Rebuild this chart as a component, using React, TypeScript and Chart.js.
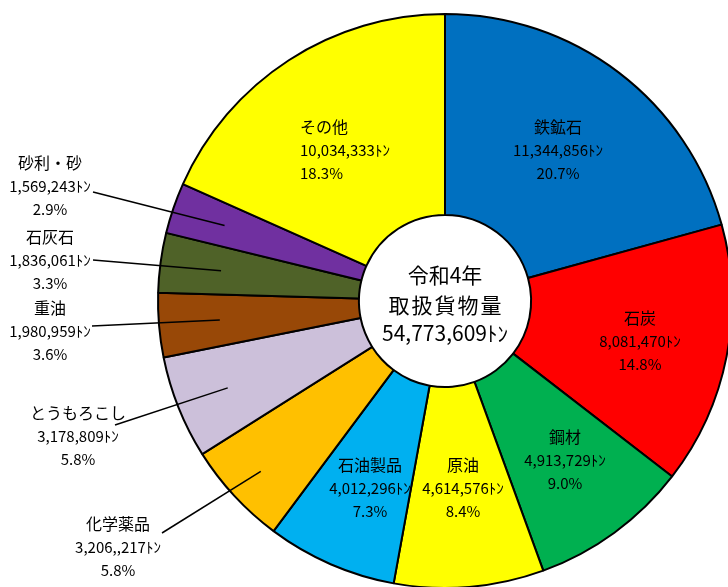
import React, { useEffect, useRef } from 'react';
import Chart from 'chart.js/auto';

const categories = ['鉄鉱石', '石炭', '鋼材', '原油', '石油製品', '化学薬品', 'とうもろこし', '重油', '石灰石', '砂利・砂', 'その他'];
const tonnage = [11344856, 8081470, 4913729, 4614576, 4012296, 3206217, 3178809, 1980959, 1836061, 1569243, 10034333];
const tonnageLabels = ['11,344,856ﾄﾝ', '8,081,470ﾄﾝ', '4,913,729ﾄﾝ', '4,614,576ﾄﾝ', '4,012,296ﾄﾝ', '3,206,,217ﾄﾝ', '3,178,809ﾄﾝ', '1,980,959ﾄﾝ', '1,836,061ﾄﾝ', '1,569,243ﾄﾝ', '10,034,333ﾄﾝ'];
const percentLabels = ['20.7%', '14.8%', '9.0%', '8.4%', '7.3%', '5.8%', '5.8%', '3.6%', '3.3%', '2.9%', '18.3%'];
const colors = ['#0070C0', '#FF0000', '#00B050', '#FFFF00', '#00B0F0', '#FFC000', '#CCC0DA', '#984807', '#4F6228', '#7030A0', '#FFFF00'];
const centerLines = ['令和4年', '取扱貨物量', '54,773,609ﾄﾝ'];

// label placement relative to chart centre (text position / leader line)
const labelLayout: any[] = [
  { dx: 113, dy: -174, align: 'center' },
  { dx: 195, dy: 17, align: 'center' },
  { dx: 120, dy: 136, align: 'center' },
  { dx: 18, dy: 164, align: 'center' },
  { dx: -75, dy: 164, align: 'center' },
  { dx: -327, dy: 223, align: 'center', lead: { sx: -283, sy: 232, r: 251 } },
  { dx: -367, dy: 112, align: 'center', lead: { sx: -330, sy: 124, r: 234 } },
  { dx: -395, dy: 7, align: 'center', lead: { sx: -353, sy: 25, r: 226 } },
  { dx: -395, dy: -64, align: 'center', lead: { sx: -352, sy: -41, r: 226 } },
  { dx: -395, dy: -138, align: 'center', lead: { sx: -352, sy: -109, r: 233 } },
  { dx: -145, dy: -174, align: 'left' },
];

const FONT = '"Noto Sans CJK JP", "Noto Sans", sans-serif';

const labelPlugin = {
  id: 'sliceLabels',
  afterDraw(chart: any) {
    const ctx = chart.ctx;
    const meta = chart.getDatasetMeta(0);
    const arcs = meta.data;
    if (!arcs.length) return;
    const cx = arcs[0].x;
    const cy = arcs[0].y;
    ctx.save();
    ctx.fillStyle = '#000';
    ctx.textBaseline = 'middle';
    // leader lines
    ctx.strokeStyle = '#000';
    ctx.lineWidth = 1.5;
    arcs.forEach((arc: any, i: number) => {
      const lay = labelLayout[i];
      if (!lay.lead) return;
      const mid = (arc.startAngle + arc.endAngle) / 2;
      const ex = arc.x + lay.lead.r * Math.cos(mid);
      const ey = arc.y + lay.lead.r * Math.sin(mid);
      ctx.beginPath();
      ctx.moveTo(cx + lay.lead.sx, cy + lay.lead.sy);
      ctx.lineTo(ex, ey);
      ctx.stroke();
    });
    // texts
    arcs.forEach((arc: any, i: number) => {
      const lay = labelLayout[i];
      const x = cx + lay.dx;
      const y = cy + lay.dy;
      ctx.textAlign = lay.align;
      ctx.font = `16px ${FONT}`;
      ctx.fillText(categories[i], x, y);
      ctx.font = `15px ${FONT}`;
      ctx.fillText(tonnageLabels[i], x, y + 23);
      ctx.fillText(percentLabels[i], x, y + 46);
    });
    // centre
    ctx.textAlign = 'center';
    ctx.font = `21px ${FONT}`;
    ctx.fillText(centerLines[0], cx, cy - 26);
    (ctx as any).letterSpacing = '2px';
    ctx.fillText(centerLines[1], cx + 1, cy + 4);
    (ctx as any).letterSpacing = '0px';
    ctx.fillText(centerLines[2], cx, cy + 32);
    ctx.restore();
  },
};

export default function App() {
  const ref = useRef<HTMLCanvasElement>(null);
  useEffect(() => {
    if (!ref.current) return;
    const chart = new Chart(ref.current, {
      type: 'doughnut',
      data: {
        labels: categories,
        datasets: [
          {
            data: tonnage,
            backgroundColor: colors,
            borderColor: '#000',
            borderWidth: 2,
          },
        ],
      },
      options: {
        responsive: false,
        animation: false,
        devicePixelRatio: 1,
        radius: 287,
        cutout: '30%',
        rotation: 0,
        events: [],
        layout: { padding: 0 },
        plugins: {
          legend: { display: false },
          tooltip: { enabled: false },
        },
      } as any,
      plugins: [labelPlugin],
    });
    return () => chart.destroy();
  }, []);
  return (
    <div style={{ position: 'fixed', left: 0, top: 0, width: 728, height: 587, overflow: 'hidden', background: '#fff' }}>
      <canvas ref={ref} width={890} height={602} style={{ display: 'block', width: 890, height: 602 }} />
    </div>
  );
}
